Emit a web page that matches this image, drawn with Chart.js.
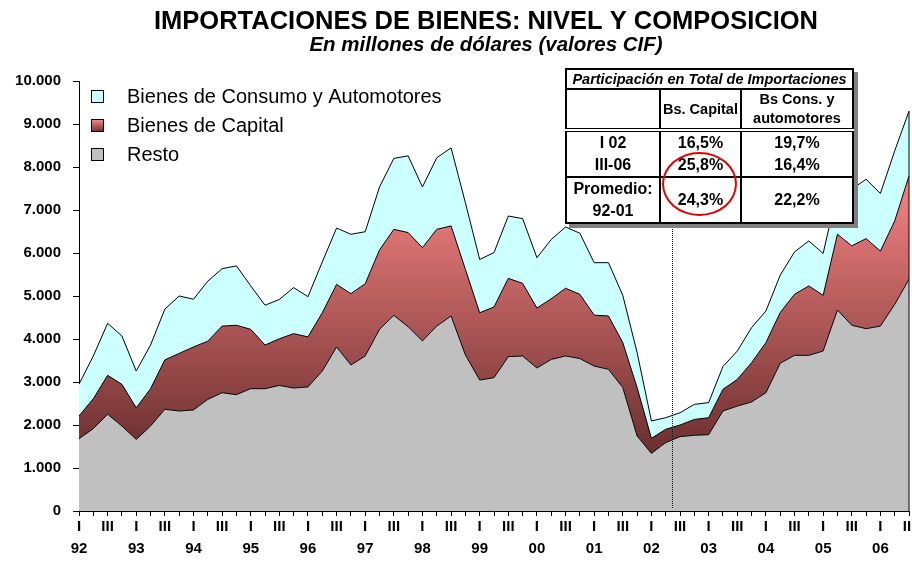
<!DOCTYPE html>
<html>
<head>
<meta charset="utf-8">
<script src="https://cdn.jsdelivr.net/npm/chart.js@4"></script>
<style>
  body { margin: 0; background: #fff; }
  #wrap { position: relative; width: 912px; height: 563px; }
  #tbl { position: absolute; left: 565px; top: 68px; background: #fff; box-shadow: 4px 4px 0 #808080; }
  #tbl table { border-collapse: collapse; width: 289px; font-family: "Liberation Sans", Arial, sans-serif; font-weight: bold; text-align: center; color: #000; }
  #tbl td { border: 2px solid #000; padding: 0; }
  #tbl .head { font-style: italic; font-size: 14.5px; height: 18px; }
  #tbl .cols td { font-size: 14.5px; line-height: 19px; height: 36px; border-bottom: 4px double #000; }
  #tbl .vals td { font-size: 16px; line-height: 22px; height: 44px; }
  #ring { position: absolute; left: 662px; top: 152px; width: 75px; height: 64px; box-sizing: border-box; border: 2px solid #e60000; border-radius: 50%; }
  #mark { position: absolute; left: 672px; top: 218px; height: 290px; border-left: 1px dotted #000; }
</style>
</head>
<body>
<div id="wrap">
  <canvas id="importChart" width="912" height="563"></canvas>
  <div id="mark"></div>
  <div id="tbl">
    <table>
      <tr><td class="head" colspan="3">Participación en Total de Importaciones</td></tr>
      <tr class="cols"><td style="width:92px"></td><td style="width:79px">Bs. Capital</td><td>Bs Cons. y<br>automotores</td></tr>
      <tr class="vals"><td>I 02<br>III-06</td><td>16,5%<br>25,8%</td><td>19,7%<br>16,4%</td></tr>
      <tr class="vals"><td>Promedio:<br>92-01</td><td>24,3%</td><td>22,2%</td></tr>
    </table>
  </div>
  <div id="ring"></div>
</div>
<script>
// Quarterly data, 1992 I to 2006 III (millions of US$ CIF)
const years = ['92', '93', '94', '95', '96', '97', '98', '99', '00', '01', '02', '03', '04', '05', '06'];
const quarterNames = ['I', 'II', 'III', 'IV'];
const quarterTicks = ['I', '', 'III', ''];
const categories = years.flatMap(y => quarterNames.map(q => q + '-' + y)).slice(0, 59);

const resto = [
    1680, 1915, 2250, 1975, 1665, 1975, 2365, 2325, 2350, 2595,
    2750, 2705, 2845, 2845, 2920, 2860, 2885, 3255, 3815, 3395,
    3605, 4225, 4550, 4285, 3955, 4300, 4535, 3630, 3045, 3100,
    3590, 3605, 3325, 3525, 3605, 3545, 3370, 3295, 2870, 1745,
    1340, 1590, 1730, 1760, 1775, 2325, 2440, 2535, 2750, 3435,
    3620, 3620, 3720, 4675, 4320, 4240, 4300, 4805, 5390
];
const capital = [
    530, 695, 905, 970, 735, 870, 1150, 1340, 1465, 1355,
    1550, 1615, 1380, 1015, 1085, 1265, 1165, 1355, 1455, 1660,
    1680, 1845, 2000, 2190, 2170, 2250, 2095, 1990, 1565, 1645,
    1820, 1690, 1395, 1410, 1575, 1495, 1185, 1240, 1045, 1125,
    350, 310, 270, 370, 395, 505, 620, 915, 1165, 1180,
    1420, 1615, 1295, 1760, 1845, 2095, 1745, 1940, 2400
];
const consumo = [
    740, 995, 1210, 1125, 855, 1015, 1180, 1335, 1110, 1395,
    1335, 1380, 1010, 925, 915, 1070, 935, 1180, 1310, 1380,
    1210, 1465, 1650, 1785, 1410, 1665, 1815, 1550, 1240, 1265,
    1450, 1505, 1170, 1380, 1425, 1420, 1220, 1240, 1100, 815,
    405, 270, 285, 350, 350, 530, 660, 815, 735, 870,
    985, 1045, 975, 1015, 1320, 1380, 1340, 1630, 1510
];
const yTicks = [0, 1000, 2000, 3000, 4000, 5000, 6000, 7000, 8000, 9000, 10000];

const FONT = '"Liberation Sans", Arial, sans-serif';

function capitalGradient(context) {
    const chart = context.chart;
    if (!chart.chartArea) return '#c06060';
    const y = chart.scales.y;
    const g = chart.ctx.createLinearGradient(0, y.getPixelForValue(7800), 0, y.getPixelForValue(1300));
    g.addColorStop(0, '#f88484');
    g.addColorStop(1, '#6a2e2e');
    return g;
}

// titles, legend and right edge outline
const decorations = {
    id: 'decorations',
    afterDatasetsDraw(chart) {
        const { ctx, scales } = chart;
        ctx.save();

        // closing edge of the stacked areas
        const last = categories.length - 1;
        const xr = scales.x.getPixelForValue(last);
        const total = resto[last] + capital[last] + consumo[last];
        ctx.strokeStyle = '#000';
        ctx.lineWidth = 1;
        ctx.beginPath();
        ctx.moveTo(xr, scales.y.getPixelForValue(total));
        ctx.lineTo(xr, scales.y.getPixelForValue(0));
        ctx.stroke();

        // titles
        ctx.fillStyle = '#000';
        ctx.textAlign = 'center';
        ctx.textBaseline = 'alphabetic';
        ctx.font = 'bold 25.5px ' + FONT;
        ctx.fillText('IMPORTACIONES DE BIENES: NIVEL Y COMPOSICION', 486, 29);
        ctx.font = 'italic bold 20.5px ' + FONT;
        ctx.fillText('En millones de dólares (valores CIF)', 486, 51);

        // legend
        const items = [
            { text: 'Bienes de Consumo y Automotores', fill: '#ccffff' },
            { text: 'Bienes de Capital', fill: 'grad' },
            { text: 'Resto', fill: '#c0c0c0' }
        ];
        ctx.textAlign = 'left';
        ctx.textBaseline = 'middle';
        ctx.font = '20px ' + FONT;
        items.forEach((it, i) => {
            const cy = 97 + i * 29;
            if (it.fill === 'grad') {
                const g = ctx.createLinearGradient(0, cy - 6, 0, cy + 6);
                g.addColorStop(0, '#f88484');
                g.addColorStop(1, '#6a2e2e');
                ctx.fillStyle = g;
            } else {
                ctx.fillStyle = it.fill;
            }
            ctx.fillRect(91.5, cy - 6.5, 12, 12);
            ctx.strokeStyle = '#000';
            ctx.strokeRect(91.5, cy - 6.5, 12, 12);
            ctx.fillStyle = '#000';
            ctx.fillText(it.text, 127, cy);
        });
        ctx.restore();
    }
};

document.addEventListener('DOMContentLoaded', () => {
    const ctx = document.getElementById('importChart').getContext('2d');

    new Chart(ctx, {
        type: 'line',
        data: {
            labels: categories,
            datasets: [
                {
                    label: 'Resto',
                    data: resto,
                    backgroundColor: '#c0c0c0',
                    fill: 'origin'
                },
                {
                    label: 'Bienes de Capital',
                    data: capital,
                    backgroundColor: capitalGradient,
                    fill: '-1'
                },
                {
                    label: 'Bienes de Consumo y Automotores',
                    data: consumo,
                    backgroundColor: '#ccffff',
                    fill: '-1'
                }
            ]
        },
        options: {
            responsive: false,
            animation: false,
            layout: {
                padding: { top: 81, right: 3, bottom: 0, left: 0 }
            },
            elements: {
                line: { borderColor: '#000', borderWidth: 1, tension: 0 },
                point: { radius: 0 }
            },
            plugins: {
                legend: { display: false },
                tooltip: { enabled: false }
            },
            scales: {
                x: {
                    offset: false,
                    grid: { drawOnChartArea: false, tickLength: 5, color: '#000' },
                    border: { color: '#000' },
                    ticks: {
                        autoSkip: false,
                        maxRotation: 0,
                        minRotation: 0,
                        padding: 0,
                        color: '#000',
                        font: { family: FONT, size: 15, weight: 'bold', lineHeight: 1.45 },
                        callback: (v, i) => {
                            const q = quarterTicks[i % 4];
                            if (!q) return '';
                            return [q, i % 4 === 0 ? years[Math.floor(i / 4)] : ''];
                        }
                    },
                    afterFit: (s) => {
                        s.height = 52;
                        s.paddingLeft = 0;
                        s.paddingRight = 0;
                    }
                },
                y: {
                    stacked: true,
                    min: 0,
                    max: 10000,
                    grid: { drawOnChartArea: false, tickLength: 6, color: '#000' },
                    border: { color: '#000' },
                    afterBuildTicks: (s) => {
                        s.ticks = yTicks.map(v => ({ value: v }));
                    },
                    ticks: {
                        padding: 12,
                        color: '#000',
                        font: { family: FONT, size: 15, weight: 'bold' },
                        callback: (v) => String(v).replace(/\B(?=(\d{3})+(?!\d))/g, '.')
                    },
                    afterFit: (s) => {
                        s.width = 79;
                    }
                }
            }
        },
        plugins: [decorations]
    });
});
</script>
</body>
</html>
